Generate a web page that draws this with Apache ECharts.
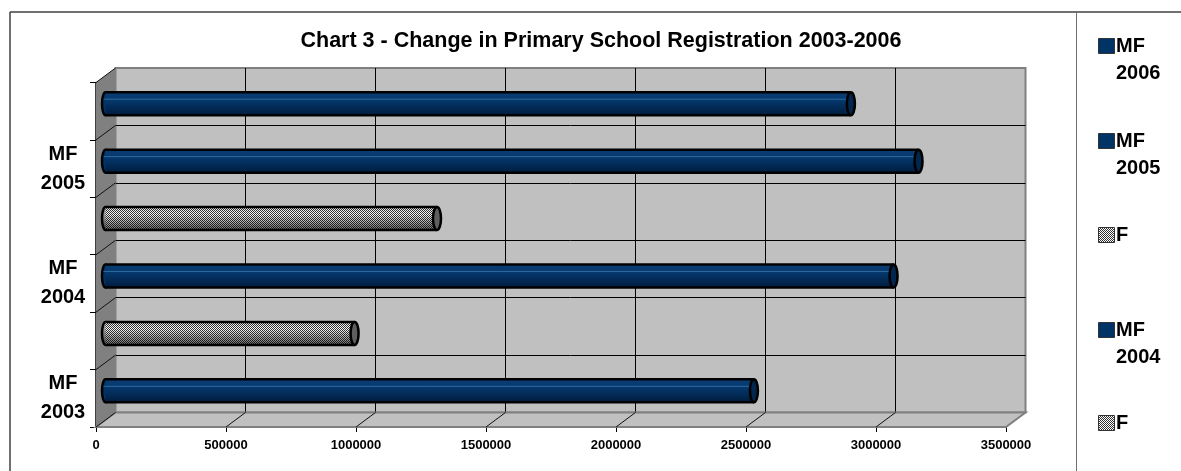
<!DOCTYPE html>
<html>
<head>
<meta charset="utf-8">
<style>
html, body { margin: 0; padding: 0; background: #fff; }
#chart { width: 1181px; height: 471px; }
</style>
<script src="https://cdn.jsdelivr.net/npm/echarts@6/dist/echarts.min.js"></script>
</head>
<body>
<div id="chart"></div>
<script>
// bottom to top, same order as the category axis
var categories = ["MF\n2003", "F ", "MF\n2004", "F", "MF\n2005", "MF\n2006"];
var values = [2494000, 958000, 3031000, 1275000, 3127000, 2867000];
var xTicks = [0, 500000, 1000000, 1500000, 2000000, 2500000, 3000000, 3500000];
var legendNames = ["MF\n2006", "MF\n2005", "F", "MF\n2004", "F"];
var legendTops = [38, 133, 227, 322, 415];

var FONT = '"Liberation Sans", Arial, sans-serif';
var NAVY = "#003366";
var depthX = 19.5, depthY = 14.5; // box depth in px
var barH = 23;

// dither used for the F bars
var cv = document.createElement("canvas");
cv.width = 2;
cv.height = 2;
var cx = cv.getContext("2d");
cx.fillStyle = "#ffffff";
cx.fillRect(0, 0, 2, 2);
cx.fillStyle = "#333333";
cx.fillRect(0, 0, 1, 1);
cx.fillRect(1, 1, 1, 1);
var dither = { image: cv, repeat: "repeat" };

function isF(i) { return categories[i].trim() == "F"; }

function navyGradient() {
    return new echarts.graphic.LinearGradient(0, 0, 0, 1, [
        { offset: 0, color: "#0a3d72" },
        { offset: 0.3, color: "#063a70" },
        { offset: 0.55, color: "#032f5e" },
        { offset: 1, color: "#001c3e" }
    ]);
}

// walls, floor and the slanted tick lines of the fake 3d box
function renderBox(params, api) {
    var bandH = api.size([0, 1])[1];
    var bl = api.coord([0, 0]);
    var tl = api.coord([0, categories.length - 1]);
    var br = api.coord([xTicks[xTicks.length - 1], 0]);
    var bottom = bl[1] + bandH / 2, top = tl[1] - bandH / 2;
    var x0 = bl[0], x1 = br[0];
    var kids = [{
        type: "polygon",
        shape: { points: [[x0, bottom], [x0, top], [x0 + depthX, top - depthY], [x0 + depthX, bottom - depthY]] },
        style: { fill: "#808080" }
    }, {
        type: "polygon",
        shape: { points: [[x0, bottom], [x1, bottom], [x1 + depthX, bottom - depthY], [x0 + depthX, bottom - depthY]] },
        style: { fill: "#c0c0c0", stroke: "#808080", lineWidth: 2 }
    }];
    for (var i = 0; i <= categories.length; i++) {
        var y = bottom - i * bandH;
        kids.push({
            type: "line",
            shape: { x1: x0, y1: y, x2: x0 + depthX, y2: y - depthY },
            style: { stroke: "#111", lineWidth: 1 }
        });
    }
    xTicks.slice(1, -1).forEach(function (t) {
        var x = api.coord([t, 0])[0];
        kids.push({
            type: "line",
            shape: { x1: x, y1: bottom, x2: x + depthX, y2: bottom - depthY },
            style: { stroke: "#111", lineWidth: 1 }
        });
    });
    return { type: "group", children: kids };
}

// rounded start of each bar, sits behind the bar
function renderStart(params, api) {
    var p = api.coord([0, api.value(1)]);
    return {
        type: "ellipse",
        shape: { cx: p[0], cy: p[1], rx: 3.5, ry: barH / 2 },
        style: { fill: isF(api.value(1)) ? "#999" : NAVY, stroke: "#000", lineWidth: 2.5 }
    };
}

// shading, outline and end cap of each bar
function renderCap(params, api) {
    var i = api.value(1);
    var s = api.coord([0, i]);
    var e = api.coord([api.value(0), i]);
    var h = barH;
    var kids = [];
    if (isF(i)) {
        kids.push({
            type: "rect",
            shape: { x: s[0] - 2.5, y: s[1] - h / 2, width: e[0] - s[0] + 2.5, height: h },
            style: {
                fill: new echarts.graphic.LinearGradient(0, 0, 0, 1, [
                    { offset: 0, color: "rgba(0,0,0,0.12)" },
                    { offset: 0.3, color: "rgba(0,0,0,0)" },
                    { offset: 1, color: "rgba(0,0,0,0.6)" }
                ])
            }
        });
    } else {
        kids.push({
            type: "line",
            shape: { x1: s[0] - 2, y1: s[1] - 4.5, x2: e[0], y2: s[1] - 4.5 },
            style: { stroke: "#2f6b9e", lineWidth: 1 }
        });
    }
    kids.push({
        type: "line",
        shape: { x1: s[0], y1: s[1] - h / 2, x2: e[0], y2: s[1] - h / 2 },
        style: { stroke: "#000", lineWidth: 2.5 }
    });
    kids.push({
        type: "line",
        shape: { x1: s[0], y1: s[1] + h / 2, x2: e[0], y2: s[1] + h / 2 },
        style: { stroke: "#000", lineWidth: 2.5 }
    });
    kids.push({
        type: "ellipse",
        shape: { cx: e[0], cy: e[1], rx: 4, ry: h / 2 },
        style: { fill: isF(i) ? "#5e5e5e" : "#02264e", stroke: "#000", lineWidth: 2.5 }
    });
    return { type: "group", children: kids };
}

var barData = values.map(function (v, i) {
    return {
        value: v,
        itemStyle: { color: isF(i) ? dither : navyGradient() }
    };
});
var capData = values.map(function (v, i) { return [v, i]; });

var graphics = [
    { type: "line", shape: { x1: 10, y1: 12, x2: 10, y2: 471 }, style: { stroke: "#404040", lineWidth: 1.5 } },
    { type: "line", shape: { x1: 10, y1: 12, x2: 1181, y2: 12 }, style: { stroke: "#404040", lineWidth: 1.5 } },
    { type: "line", shape: { x1: 1076.5, y1: 12, x2: 1076.5, y2: 471 }, style: { stroke: "#707070", lineWidth: 1 } }
];
legendNames.forEach(function (name, i) {
    graphics.push({
        type: "rect",
        shape: { x: 1098.5, y: legendTops[i] + 0.5, width: 16, height: 15 },
        style: { fill: name == "F" ? dither : NAVY, stroke: "#333", lineWidth: 1 }
    });
    graphics.push({
        type: "text",
        x: 1116,
        y: legendTops[i] - 5,
        style: { text: name, font: "bold 20px " + FONT, lineHeight: 27, fill: "#000", textVerticalAlign: "top" }
    });
});

var myChart = echarts.init(document.getElementById("chart"), null, { renderer: "canvas" });
myChart.setOption({
    animation: false,
    backgroundColor: "#ffffff",
    title: {
        text: "Chart 3 - Change in Primary School Registration 2003-2006",
        left: 596,
        top: 25,
        textAlign: "center",
        textStyle: { fontFamily: FONT, fontWeight: "bold", fontSize: 21.5, color: "#000" }
    },
    graphic: graphics,
    grid: [
        { left: 96, top: 82.5, width: 910, height: 344.5 },
        { left: 115.5, top: 68, width: 910, height: 344.5, show: true, backgroundColor: "#c0c0c0", borderColor: "#808080", borderWidth: 2 },
        { left: 105.5, top: 75, width: 910, height: 344.5 }
    ],
    xAxis: [
        {
            gridIndex: 0, type: "value", min: 0, max: 3500000, interval: 500000,
            splitLine: { show: false },
            axisLine: { show: true, lineStyle: { color: "#000", width: 1.5 } },
            axisTick: { show: true, length: 5, lineStyle: { color: "#000" } },
            axisLabel: {
                show: true, margin: 12, fontFamily: FONT, fontWeight: "bold", fontSize: 13, color: "#000",
                showMinLabel: true, showMaxLabel: true,
                formatter: function (v) { return String(v); }
            }
        },
        {
            gridIndex: 1, type: "value", min: 0, max: 3500000, interval: 500000,
            splitLine: { show: true, showMinLine: false, showMaxLine: false, lineStyle: { color: "#000", width: 1 } },
            axisLine: { show: false }, axisTick: { show: false }, axisLabel: { show: false }
        },
        {
            gridIndex: 2, type: "value", min: 0, max: 3500000, interval: 500000,
            splitLine: { show: false }, axisLine: { show: false }, axisTick: { show: false }, axisLabel: { show: false }
        }
    ],
    yAxis: [
        {
            gridIndex: 0, type: "category", data: categories,
            axisLine: { show: true, lineStyle: { color: "#000", width: 1.5 } },
            axisTick: { show: true, length: 6, interval: 0, lineStyle: { color: "#000" } },
            axisLabel: { interval: 1, margin: 33, fontFamily: FONT, fontWeight: "bold", fontSize: 20, lineHeight: 29, color: "#000", align: "center", padding: [0, 0, 2, 0] }
        },
        {
            gridIndex: 1, type: "category", data: categories,
            splitLine: { show: true, interval: 0, showMinLine: false, showMaxLine: false, lineStyle: { color: "#000", width: 1 } },
            axisLine: { show: false }, axisTick: { show: false }, axisLabel: { show: false }
        },
        {
            gridIndex: 2, type: "category", data: categories,
            axisLine: { show: false }, axisTick: { show: false }, axisLabel: { show: false }
        }
    ],
    series: [
        { type: "custom", name: "box", xAxisIndex: 0, yAxisIndex: 0, z: 1, silent: true, data: [[0, 0]], renderItem: renderBox },
        { type: "custom", name: "start", xAxisIndex: 2, yAxisIndex: 2, z: 2, silent: true, data: capData, renderItem: renderStart },
        { type: "bar", name: "Registration", xAxisIndex: 2, yAxisIndex: 2, z: 3, barWidth: barH, data: barData },
        { type: "custom", name: "cap", xAxisIndex: 2, yAxisIndex: 2, z: 4, silent: true, data: capData, renderItem: renderCap }
    ]
});
</script>
</body>
</html>
